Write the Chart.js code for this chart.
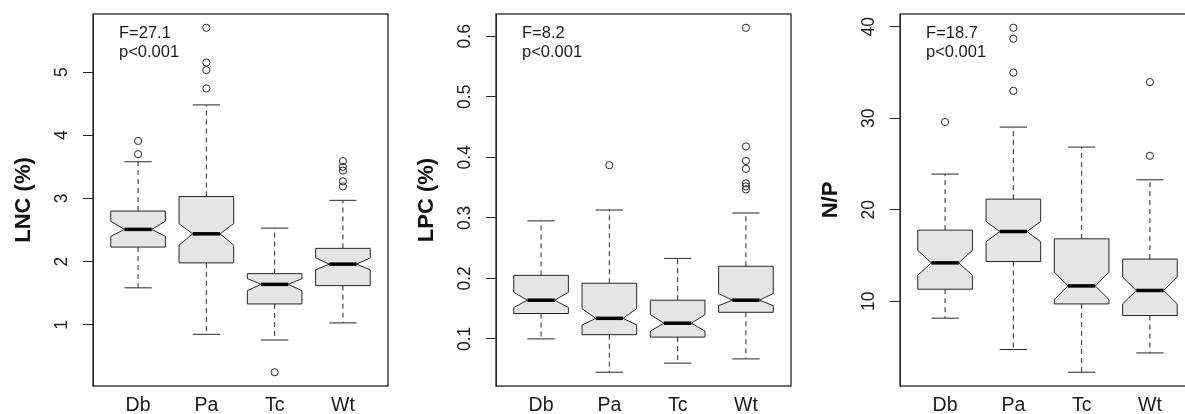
<!DOCTYPE html>
<html>
<head>
<meta charset="utf-8">
<script src="https://cdn.jsdelivr.net/npm/chart.js@4.4.0/dist/chart.umd.min.js"></script>
<style>
  html, body { margin: 0; padding: 0; background: #fff; width: 1185px; height: 414px; overflow: hidden; }
  canvas { position: absolute; top: 0; }
</style>
</head>
<body>
<canvas id="lnc"></canvas>
<canvas id="lpc"></canvas>
<canvas id="np"></canvas>
<script>
const groups = ['Db', 'Pa', 'Tc', 'Wt'];

// LNC (%)
const lncLow = [1.585, 0.85, 0.76, 1.03];
const lncQ1 = [2.23, 1.98, 1.33, 1.62];
const lncMedian = [2.51, 2.44, 1.64, 1.96];
const lncQ3 = [2.80, 3.03, 1.81, 2.21];
const lncHigh = [3.58, 4.48, 2.53, 2.97];
const lncNotchLow = [2.40, 2.26, 1.54, 1.87];
const lncNotchHigh = [2.64, 2.60, 1.73, 2.06];
const lncOutliers = [[3.70, 3.91], [4.74, 5.03, 5.15, 5.70], [0.25], [3.19, 3.27, 3.44, 3.50, 3.59]];
const lncTicks = [1, 2, 3, 4, 5];

// LPC (%)
const lpcLow = [0.100, 0.045, 0.060, 0.067];
const lpcQ1 = [0.142, 0.107, 0.103, 0.144];
const lpcMedian = [0.164, 0.134, 0.126, 0.164];
const lpcQ3 = [0.205, 0.192, 0.164, 0.220];
const lpcHigh = [0.295, 0.313, 0.233, 0.308];
const lpcNotchLow = [0.152, 0.123, 0.113, 0.155];
const lpcNotchHigh = [0.177, 0.150, 0.140, 0.175];
const lpcOutliers = [[], [0.387], [], [0.347, 0.352, 0.357, 0.381, 0.394, 0.418, 0.614]];
const lpcTicks = [0.1, 0.2, 0.3, 0.4, 0.5, 0.6];

// N/P
const npLow = [8.14, 4.71, 2.23, 4.34];
const npQ1 = [11.31, 14.34, 9.70, 8.43];
const npMedian = [14.19, 17.62, 11.67, 11.17];
const npQ3 = [17.77, 21.16, 16.82, 14.60];
const npHigh = [23.9, 29.04, 26.85, 23.27];
const npNotchLow = [12.84, 16.49, 10.18, 9.70];
const npNotchHigh = [15.55, 18.72, 13.17, 12.63];
const npOutliers = [[29.6], [33.0, 35.0, 38.7, 39.9], [], [25.9, 33.96]];
const npTicks = [10, 20, 30, 40];

const fStats = ['F=27.1', 'F=8.2', 'F=18.7'];
const pText = 'p<0.001';

const INK = '#262626';
const FONT = '"Liberation Sans", Arial, sans-serif';
const AXIS_W = 92;
const PLOT_W = 295;
const RIGHT_PAD = 8;

// draws one notched box plot panel
const makePanel = (id, plotLeft, title, yTicks, box, outliers, stat, tickPad) => {
  const canvas = document.getElementById(id);
  canvas.width = AXIS_W + PLOT_W + RIGHT_PAD;
  canvas.height = 414;
  canvas.style.left = (plotLeft - AXIS_W) + 'px';

  // R style range: data range plus 4% on each side
  const all = box.low.concat(box.high, ...outliers);
  const lo = Math.min(...all);
  const hi = Math.max(...all);
  const ext = (hi - lo) * 0.04;

  const points = [];
  outliers.forEach((vals, i) => vals.forEach((v) => points.push({ x: i + 1, y: v })));

  const boxPlugin = {
    id: 'notchedBoxes',
    beforeDatasetsDraw(chart) {
      const { ctx, scales: { x, y } } = chart;
      const w = x.getPixelForValue(1.4) - x.getPixelForValue(1);
      ctx.save();
      groups.forEach((g, i) => {
        const cx = x.getPixelForValue(i + 1);
        const py = (v) => y.getPixelForValue(v);

        // whiskers
        ctx.strokeStyle = INK;
        ctx.lineWidth = 1;
        ctx.setLineDash([5, 4]);
        ctx.beginPath();
        ctx.moveTo(cx, py(box.q3[i]));
        ctx.lineTo(cx, py(box.high[i]));
        ctx.moveTo(cx, py(box.q1[i]));
        ctx.lineTo(cx, py(box.low[i]));
        ctx.stroke();
        ctx.setLineDash([]);
        ctx.beginPath();
        ctx.moveTo(cx - w / 2, py(box.high[i]));
        ctx.lineTo(cx + w / 2, py(box.high[i]));
        ctx.moveTo(cx - w / 2, py(box.low[i]));
        ctx.lineTo(cx + w / 2, py(box.low[i]));
        ctx.stroke();

        // notched box
        ctx.beginPath();
        ctx.moveTo(cx - w, py(box.q1[i]));
        ctx.lineTo(cx - w, py(box.notchLow[i]));
        ctx.lineTo(cx - w / 2, py(box.median[i]));
        ctx.lineTo(cx - w, py(box.notchHigh[i]));
        ctx.lineTo(cx - w, py(box.q3[i]));
        ctx.lineTo(cx + w, py(box.q3[i]));
        ctx.lineTo(cx + w, py(box.notchHigh[i]));
        ctx.lineTo(cx + w / 2, py(box.median[i]));
        ctx.lineTo(cx + w, py(box.notchLow[i]));
        ctx.lineTo(cx + w, py(box.q1[i]));
        ctx.closePath();
        ctx.fillStyle = '#e5e5e5';
        ctx.fill();
        ctx.stroke();

        // median
        ctx.beginPath();
        ctx.lineWidth = 3.5;
        ctx.strokeStyle = '#000';
        ctx.moveTo(cx - w / 2, py(box.median[i]));
        ctx.lineTo(cx + w / 2, py(box.median[i]));
        ctx.stroke();
      });
      ctx.restore();
    },
    afterDraw(chart) {
      const { ctx, chartArea: a } = chart;
      ctx.save();
      ctx.strokeStyle = INK;
      ctx.lineWidth = 1.3;
      ctx.strokeRect(a.left, a.top, a.right - a.left, a.bottom - a.top);
      ctx.fillStyle = '#1a1a1a';
      ctx.font = '16.5px ' + FONT;
      ctx.textBaseline = 'middle';
      ctx.fillText(stat, a.left + 26, 33);
      ctx.fillText(pText, a.left + 26, 52);
      ctx.restore();
    },
  };

  return new Chart(canvas, {
    type: 'scatter',
    data: {
      datasets: [{
        data: points,
        pointStyle: 'circle',
        pointRadius: 3.6,
        pointBorderWidth: 1,
        pointBorderColor: INK,
        pointBackgroundColor: 'rgba(0,0,0,0)',
      }],
    },
    options: {
      responsive: false,
      animation: false,
      events: [],
      layout: { padding: { left: 0, right: RIGHT_PAD, top: 14, bottom: 0 } },
      plugins: { legend: { display: false }, tooltip: { enabled: false } },
      scales: {
        x: {
          type: 'linear',
          min: 0.34,
          max: 4.66,
          afterBuildTicks: (scale) => { scale.ticks = groups.map((g, i) => ({ value: i + 1 })); },
          afterFit: (scale) => {
            scale.height = 28;
            scale.paddingLeft = 0; scale.paddingRight = 0;
          },
          grid: { display: false, drawTicks: false },
          border: { display: false },
          ticks: {
            autoSkip: false,
            maxRotation: 0,
            padding: 8,
            color: '#1a1a1a',
            font: { family: FONT, size: 19.5 },
            callback: (v) => groups[Math.round(v) - 1],
          },
        },
        y: {
          type: 'linear',
          min: lo - ext,
          max: hi + ext,
          afterBuildTicks: (scale) => { scale.ticks = yTicks.map((v) => ({ value: v })); },
          afterFit: (scale) => {
            scale.width = AXIS_W;
            scale.paddingTop = 0; scale.paddingBottom = 0;
          },
          grid: { drawOnChartArea: false, drawTicks: true, tickLength: 10, color: INK, lineWidth: 1 },
          border: { display: true, color: INK },
          title: {
            display: true,
            text: title,
            color: '#111',
            font: { family: FONT, size: 22, weight: 'bold' },
            padding: { top: 10, bottom: 0 },
          },
          ticks: {
            autoSkip: false,
            minRotation: 90,
            maxRotation: 90,
            crossAlign: 'center',
            padding: tickPad,
            color: '#1a1a1a',
            font: { family: FONT, size: 17.5 },
            callback: (v) => String(v),
          },
        },
      },
    },
    plugins: [boxPlugin],
  });
};

makePanel('lnc', 92.6, 'LNC (%)', lncTicks,
  { low: lncLow, q1: lncQ1, median: lncMedian, q3: lncQ3, high: lncHigh, notchLow: lncNotchLow, notchHigh: lncNotchHigh },
  lncOutliers, fStats[0], 16);
makePanel('lpc', 495.6, 'LPC (%)', lpcTicks,
  { low: lpcLow, q1: lpcQ1, median: lpcMedian, q3: lpcQ3, high: lpcHigh, notchLow: lpcNotchLow, notchHigh: lpcNotchHigh },
  lpcOutliers, fStats[1], 9);
makePanel('np', 900.4, 'N/P', npTicks,
  { low: npLow, q1: npQ1, median: npMedian, q3: npQ3, high: npHigh, notchLow: npNotchLow, notchHigh: npNotchHigh },
  npOutliers, fStats[2], 11);
</script>
</body>
</html>
